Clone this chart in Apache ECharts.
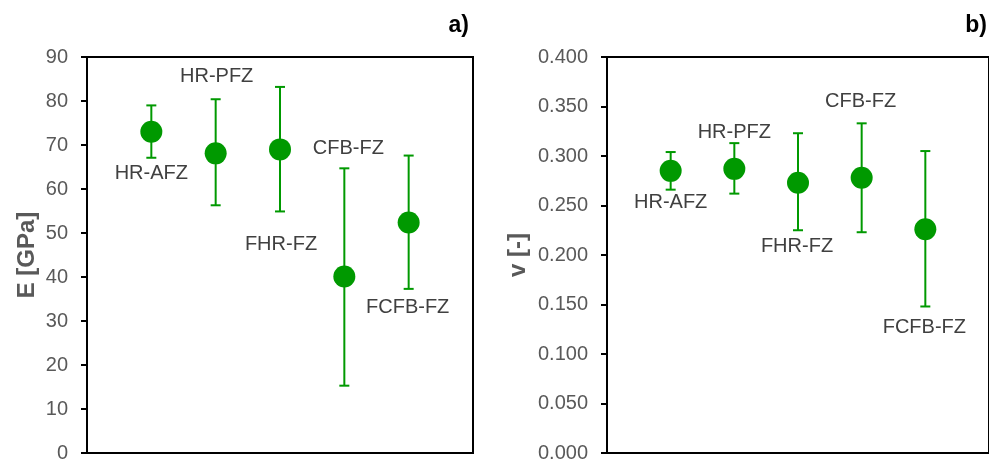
<!DOCTYPE html>
<html>
<head>
<meta charset="utf-8">
<script src="https://cdn.jsdelivr.net/npm/echarts@6/dist/echarts.min.js"></script>
<style>
  html, body { margin: 0; padding: 0; background: #fff; }
  #chart { width: 989px; height: 463px; }
</style>
</head>
<body>
<div id="chart"></div>
<script>
// Specimen groups
const categories = ['HR-AFZ', 'HR-PFZ', 'FHR-FZ', 'CFB-FZ', 'FCFB-FZ'];

// a) Young's modulus E [GPa]: mean, lower and upper error-bar ends
const eMean = [73.0, 68.1, 69.0, 40.1, 52.4];
const eLow  = [67.1, 56.3, 54.9, 15.3, 37.3];
const eHigh = [79.0, 80.4, 83.2, 64.7, 67.6];

// b) Poisson's ratio v [-]
const vMean = [0.285, 0.287, 0.273, 0.278, 0.226];
const vLow  = [0.266, 0.262, 0.225, 0.223, 0.148];
const vHigh = [0.304, 0.313, 0.323, 0.333, 0.305];

// Label placement around each marker, pixel offsets [dx, dy]
const eLabelOffset = [[0, 42], [1, -77], [1, 95], [4, -128], [-1, 85]];
const vLabelOffset = [[0, 32], [0, -36], [-1, 64], [-1, -76], [-1, 98]];

const GREEN = '#009900';
const FONT = "'Liberation Sans', Arial, sans-serif";

function errorBarSeries(idx, low, high) {
  return {
    type: 'custom',
    xAxisIndex: idx, yAxisIndex: idx,
    silent: true,
    z: 2,
    data: categories.map((c, i) => [i + 1, low[i], high[i]]),
    renderItem: function (params, api) {
      const x = api.value(0);
      const lo = api.coord([x, api.value(1)]);
      const hi = api.coord([x, api.value(2)]);
      const cap = 5;
      const style = { stroke: GREEN, lineWidth: 2 };
      return {
        type: 'group',
        children: [
          { type: 'line', shape: { x1: hi[0], y1: hi[1], x2: lo[0], y2: lo[1] }, style: style },
          { type: 'line', shape: { x1: hi[0] - cap, y1: hi[1], x2: hi[0] + cap, y2: hi[1] }, style: style },
          { type: 'line', shape: { x1: lo[0] - cap, y1: lo[1], x2: lo[0] + cap, y2: lo[1] }, style: style }
        ]
      };
    }
  };
}

function pointSeries(idx, mean, offsets) {
  return {
    type: 'scatter',
    xAxisIndex: idx, yAxisIndex: idx,
    symbol: 'circle',
    symbolSize: 22,
    z: 3,
    itemStyle: { color: GREEN, opacity: 1 },
    data: categories.map((c, i) => ({
      value: [i + 1, mean[i]],
      name: c,
      label: {
        show: true,
        position: 'inside',
        offset: offsets[i],
        formatter: c,
        color: '#404040',
        fontSize: 20,
        fontFamily: FONT
      }
    }))
  };
}

function valueY(idx, max, interval, decimals, name, nameGap) {
  return {
    type: 'value',
    gridIndex: idx,
    min: 0, max: max, interval: interval,
    name: name,
    nameLocation: 'middle',
    nameRotate: 90,
    nameGap: nameGap,
    nameTextStyle: { color: '#595959', fontSize: 24, fontWeight: 'bold', fontFamily: FONT },
    axisLine: { show: true, lineStyle: { color: '#000', width: 2 } },
    axisTick: { show: true, inside: false, length: 6, lineStyle: { color: '#000', width: 2 } },
    axisLabel: {
      color: '#595959', fontSize: 20, fontFamily: FONT, margin: 19,
      formatter: v => v.toFixed(decimals)
    },
    splitLine: { show: false }
  };
}

function hiddenX(idx) {
  return {
    type: 'value', gridIndex: idx, min: 0, max: 6,
    axisLine: { show: false }, axisTick: { show: false },
    axisLabel: { show: false }, splitLine: { show: false }
  };
}

const chart = echarts.init(document.getElementById('chart'), null, { renderer: 'canvas' });
chart.setOption({
  backgroundColor: '#fff',
  animation: false,
  grid: [
    { left: 87, top: 57, width: 386, height: 398, show: true, borderColor: '#000', borderWidth: 2, backgroundColor: 'transparent' },
    { left: 607, top: 57, width: 388, height: 398, show: true, borderColor: '#000', borderWidth: 2, backgroundColor: 'transparent' }
  ],
  xAxis: [hiddenX(0), hiddenX(1)],
  yAxis: [
    valueY(0, 90, 10, 0, 'E [GPa]', 48),
    valueY(1, 0.4, 0.05, 3, 'v [-]', 77)
  ],
  series: [
    errorBarSeries(0, eLow, eHigh),
    pointSeries(0, eMean, eLabelOffset),
    errorBarSeries(1, vLow, vHigh),
    pointSeries(1, vMean, vLabelOffset)
  ],
  graphic: [
    { type: 'text', right: 989 - 469, top: 14, style: { text: 'a)', font: 'bold 23px ' + FONT, fill: '#000' } },
    { type: 'text', right: 2, top: 14, style: { text: 'b)', font: 'bold 23px ' + FONT, fill: '#000' } }
  ]
});
</script>
</body>
</html>
